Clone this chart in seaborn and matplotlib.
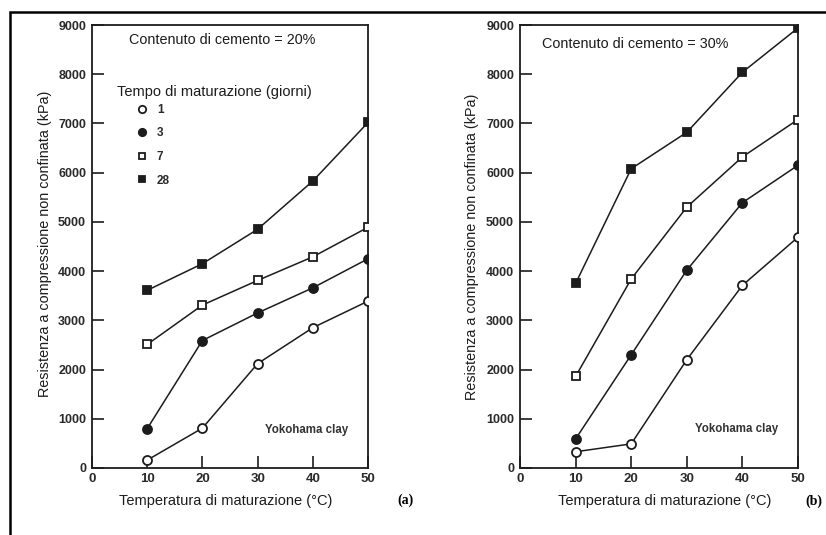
import matplotlib
matplotlib.use("Agg")
import matplotlib.pyplot as plt
from matplotlib.lines import Line2D
from matplotlib.patches import Rectangle
import pandas as pd
import seaborn as sns

# Curing temperature (°C) and curing time (days)
temperature = [10, 20, 30, 40, 50]
curing_days = ["1", "3", "7", "28"]

# Unconfined compressive strength (kPa), cement content 20 %
qu20_d1 = [160, 810, 2120, 2850, 3390]
qu20_d3 = [800, 2590, 3150, 3660, 4250]
qu20_d7 = [2510, 3310, 3810, 4290, 4890]
qu20_d28 = [3610, 4150, 4850, 5830, 7020]

# Unconfined compressive strength (kPa), cement content 30 %
qu30_d1 = [330, 490, 2200, 3710, 4690]
qu30_d3 = [590, 2300, 4020, 5390, 6150]
qu30_d7 = [1860, 3840, 5300, 6320, 7080]
qu30_d28 = [3750, 6080, 6820, 8040, 8940]

x_ticks = [0, 10, 20, 30, 40, 50]
y_ticks = [0, 1000, 2000, 3000, 4000, 5000, 6000, 7000, 8000, 9000]

INK = "#1c1c1c"
marker_shape = {"1": "o", "3": "o", "7": "s", "28": "s"}
marker_face = {"1": "white", "3": INK, "7": "white", "28": INK}
marker_size = {"1": 6.5, "3": 6.5, "7": 5.9, "28": 5.9}


def long_table(series):
    rows = []
    for day, vals in zip(curing_days, series):
        for t, v in zip(temperature, vals):
            rows.append({"temp": t, "qu": v, "giorni": day})
    return pd.DataFrame(rows)


df20 = long_table([qu20_d1, qu20_d3, qu20_d7, qu20_d28])
df30 = long_table([qu30_d1, qu30_d3, qu30_d7, qu30_d28])

sns.set_theme(style="white")
plt.rcParams["font.family"] = ["Liberation Sans", "DejaVu Sans"]

W, H = 826, 535
fig = plt.figure(figsize=(W / 100, H / 100), dpi=100)
fig.patch.set_facecolor("white")

ax_a = fig.add_axes([92 / W, 1 - 468 / H, 276 / W, 443 / H])
ax_b = fig.add_axes([520 / W, 1 - 468 / H, 278 / W, 443 / H])


def draw_panel(ax, df, cement_label, cement_xy, clay_xy):
    for day in curing_days:
        sub = df[df["giorni"] == day]
        sns.lineplot(
            data=sub, x="temp", y="qu", ax=ax, color=INK, linewidth=1.1,
            marker=marker_shape[day], markersize=marker_size[day],
            markerfacecolor=marker_face[day], markeredgecolor=INK,
            markeredgewidth=1.3, legend=False, zorder=3,
        )
    ax.set_xlim(0, 50)
    ax.set_ylim(0, 9000)
    ax.set_xticks(x_ticks)
    ax.set_yticks(y_ticks)
    ax.set_xticklabels([str(v) for v in x_ticks])
    ax.set_yticklabels([str(v) for v in y_ticks])
    for sp in ax.spines.values():
        sp.set_visible(True)
        sp.set_color(INK)
        sp.set_linewidth(1.3)
    ax.tick_params(axis="both", direction="in", length=8.5, width=1.2,
                   colors=INK)
    ax.tick_params(axis="y", pad=4.3, labelsize=9)
    ax.tick_params(axis="x", pad=3.4, labelsize=9.5)
    ax.tick_params(axis="x", which="both", bottom=True)
    ax.tick_params(axis="y", which="both", left=True)
    for lab in ax.get_xticklabels() + ax.get_yticklabels():
        lab.set_fontweight("bold")
        lab.set_color("#2a2a2a")
    ax.set_xlabel("Temperatura di maturazione (°C)", fontsize=10.5, color=INK)
    ax.set_ylabel("Resistenza a compressione non confinata (kPa)",
                  fontsize=10.4, color=INK)
    ax.text(cement_xy[0], cement_xy[1], cement_label, fontsize=10.4,
            color=INK, ha="left", va="center")
    ax.text(clay_xy[0], clay_xy[1], "Yokohama clay", fontsize=8.3,
            fontweight="bold", color="#333333", ha="left", va="center")


draw_panel(ax_a, df20, "Contenuto di cemento = 20%", (6.7, 8700), (31.3, 770))
draw_panel(ax_b, df30, "Contenuto di cemento = 30%", (4.0, 8620), (31.5, 790))

ax_a.xaxis.set_label_coords(0.486, -0.058)
ax_a.yaxis.set_label_coords(-0.146, 0.505)
ax_b.xaxis.set_label_coords(0.52, -0.058)
ax_b.yaxis.set_label_coords(-0.149, 0.5)

# Curing-time key in panel (a)
ax_a.text(4.5, 7640, "Tempo di maturazione (giorni)", fontsize=10.5,
          color=INK, ha="left", va="center")
handles = [
    Line2D([], [], linestyle="none", marker=marker_shape[d],
           markersize=marker_size[d] - 1.2, markerfacecolor=marker_face[d],
           markeredgecolor=INK, markeredgewidth=1.3, label=d)
    for d in curing_days
]
ax_a.legend(handles=handles, loc="upper left", bbox_to_anchor=(0.156, 0.822),
            frameon=False, borderpad=0, borderaxespad=0, handlelength=1.2,
            handletextpad=0.65, labelspacing=0.98,
            prop={"size": 8.5, "weight": "bold"}, labelcolor="#2a2a2a")

# Panel tags
fig.text(405 / W, 1 - 500 / H, "(a)", fontsize=10, fontweight="bold",
         family="Liberation Serif", ha="center", va="center", color="black")
fig.text(805 / W, 1 - 501 / H, "(b)", fontsize=10, fontweight="bold",
         family="Liberation Serif", ha="left", va="center", color="black")

# Outer frame
fig.add_artist(Rectangle((10 / W, -0.2), 1.5, (1 - 12.5 / H) + 0.2,
                         transform=fig.transFigure, fill=False,
                         edgecolor="black", linewidth=1.8, clip_on=False))

fig.savefig("out.png", dpi=100, facecolor="white")
